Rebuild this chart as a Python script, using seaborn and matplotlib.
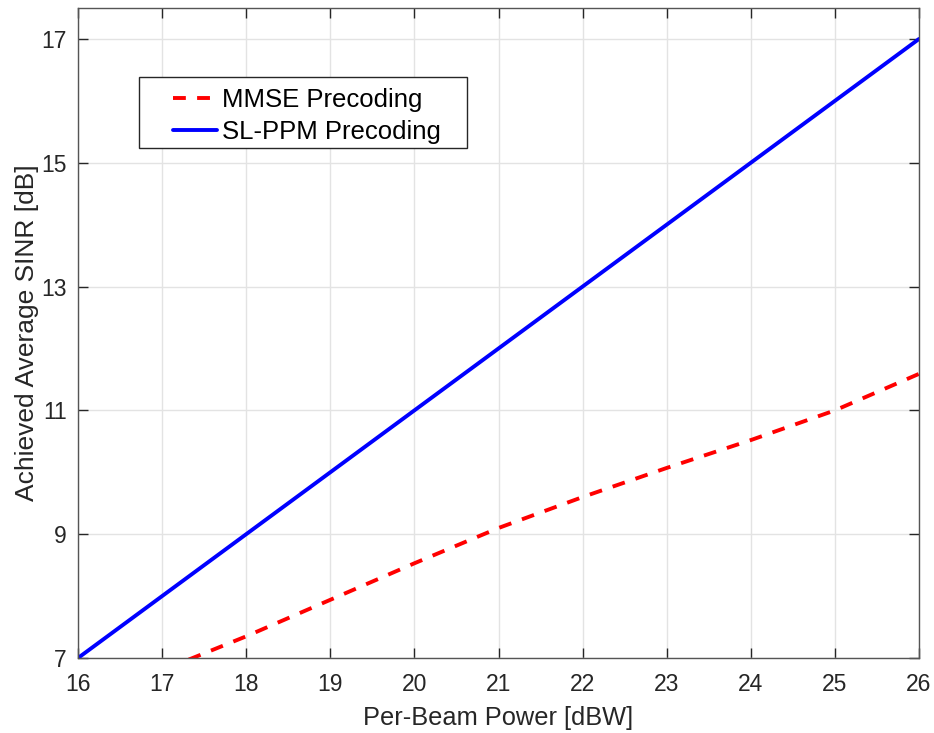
import matplotlib
matplotlib.use("Agg")
import matplotlib.pyplot as plt
from matplotlib.patches import Rectangle
import seaborn as sns
import pandas as pd
import numpy as np

# Data
power_dbw = [16, 17, 18, 19, 20, 21, 22, 23, 24, 25, 26]
mmse_sinr = [6.2, 6.8, 7.35, 7.94, 8.53, 9.10, 9.60, 10.07, 10.52, 11.0, 11.59]
slppm_sinr = [7.0, 8.0, 9.0, 10.0, 11.0, 12.0, 13.0, 14.0, 15.0, 16.0, 17.0]
series_names = ["MMSE Precoding", "SL-PPM Precoding"]
x_ticks = [16, 17, 18, 19, 20, 21, 22, 23, 24, 25, 26]
y_ticks = [7, 9, 11, 13, 15, 17]

df = pd.DataFrame({
    "x": power_dbw * 2,
    "y": mmse_sinr + slppm_sinr,
    "series": [series_names[0]] * len(power_dbw) + [series_names[1]] * len(power_dbw),
})

sns.set_theme(style="white")
plt.rcParams["font.family"] = ["Liberation Sans", "DejaVu Sans"]

W, H = 934, 733
fig = plt.figure(figsize=(W / 100, H / 100), dpi=100)
ax = fig.add_axes([78 / W, 1 - 658 / H, (919 - 78) / W, (658 - 8) / H])

LW = 2.8
sns.lineplot(
    data=df, x="x", y="y", hue="series", style="series",
    palette={series_names[0]: "#ff0000", series_names[1]: "#0000ff"},
    dashes={series_names[0]: (3.3, 2.9), series_names[1]: ""},
    linewidth=LW, ax=ax, legend=True,
)
for ln in ax.get_lines():
    ln.set_dash_capstyle("butt")

ax.set_xlim(16, 26)
ax.set_ylim(7, 17.5)
ax.set_xticks(x_ticks)
ax.set_yticks(y_ticks)
ax.grid(True, color="#e3e3e3", linewidth=1.0)
ax.set_axisbelow(True)

axis_col = "#262626"
for s in ax.spines.values():
    s.set_visible(True)
    s.set_color("#555555")
    s.set_linewidth(1.0)
ax.tick_params(axis="both", direction="in", length=7, width=1.0, color=axis_col,
               labelsize=16.5, labelcolor=axis_col, top=True, right=True,
               bottom=True, left=True)
ax.tick_params(axis="x", pad=11)
ax.tick_params(axis="y", pad=8)
ax.set_xlabel("Per-Beam Power [dBW]", fontsize=18.3, color=axis_col, labelpad=7)
ax.set_ylabel("Achieved Average SINR [dB]", fontsize=19, color=axis_col, labelpad=2)

leg = ax.legend(loc="upper left", bbox_to_anchor=(173 / W, 1 - 88 / H),
                bbox_transform=fig.transFigure,
                borderaxespad=0, borderpad=0, fontsize=18.5, frameon=False,
                handlelength=1.72, labelspacing=0.31, handletextpad=0.2)
leg.set_zorder(6)
for t in leg.get_texts():
    t.set_color("#000000")
for h in leg.get_lines():
    h.set_linewidth(LW)

# Legend frame drawn as a rectangle (pixel box 139..467 x 77..148)
frame = Rectangle((139 / W, 1 - 148 / H), (467 - 139) / W, (148 - 77) / H,
                  transform=fig.transFigure, facecolor="white", edgecolor="#262626",
                  linewidth=1.0, zorder=4, clip_on=False)
ax.add_artist(frame)

fig.savefig("out.png", dpi=100)
